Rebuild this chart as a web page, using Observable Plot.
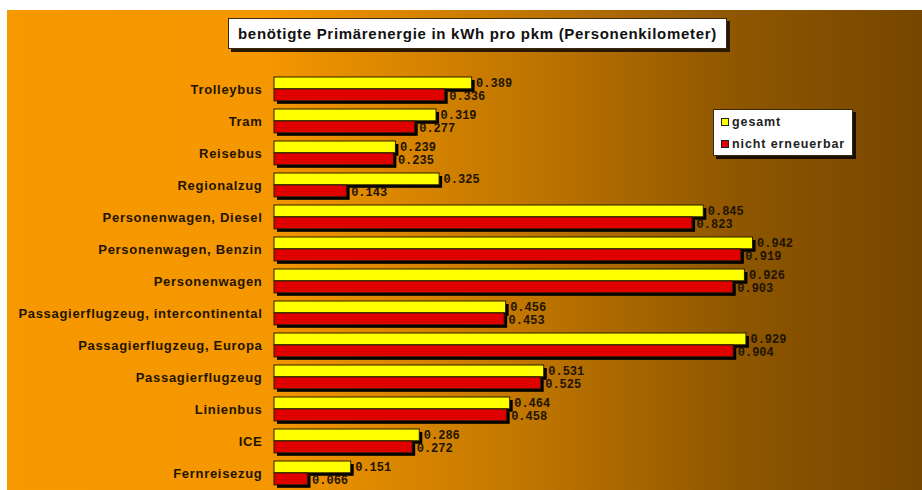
<!DOCTYPE html>
<html>
<head>
<meta charset="utf-8">
<script src="https://cdn.jsdelivr.net/npm/d3@7"></script>
<script src="https://cdn.jsdelivr.net/npm/@observablehq/plot@0.6"></script>
<style>
  html, body { margin: 0; padding: 0; background: #fff; }
  #wrap { position: relative; width: 922px; height: 490px; overflow: hidden; background: #fff; }
  #chart { position: absolute; left: 7px; top: 10px; width: 915px; height: 480px;
    background: linear-gradient(to right, #f79800 0%, #f59700 28%, #c47800 55%, #8e5600 80%, #764600 100%); }
  #chart svg { display: block; background: transparent; }
  #title { position: absolute; left: 228px; top: 18px; width: 499px; height: 31px; background: #fff;
    border: 1px solid #3a2a10; box-shadow: 3px 3px 0 #2a1800; box-sizing: border-box;
    font: bold 15px "Liberation Sans", Arial, sans-serif; letter-spacing: 0.7px; color: #111; text-align: center; line-height: 29px; white-space: nowrap; }
  #legend { position: absolute; left: 713px; top: 109px; width: 140px; height: 47px; background: #fff;
    border: 1px solid #3a2a10; box-shadow: 3px 3px 0 #1a0f00; box-sizing: border-box;
    font: bold 12.5px "Liberation Sans", Arial, sans-serif; letter-spacing: 0.9px; color: #222; }
  .li { position: absolute; left: 7px; display: flex; align-items: center; white-space: nowrap; }
  .sw { width: 6px; height: 6px; border: 1px solid #222; margin-right: 3px; }
</style>
</head>
<body>
<div id="wrap">
  <div id="chart"></div>
  <div id="title">benötigte Primärenergie in kWh pro pkm (Personenkilometer)</div>
  <div id="legend"></div>
</div>
<script>
const categories = ["Trolleybus", "Tram", "Reisebus", "Regionalzug", "Personenwagen, Diesel",
  "Personenwagen, Benzin", "Personenwagen", "Passagierflugzeug, intercontinental",
  "Passagierflugzeug, Europa", "Passagierflugzeug", "Linienbus", "ICE", "Fernreisezug"];
const gesamt = [0.389, 0.319, 0.239, 0.325, 0.845, 0.942, 0.926, 0.456, 0.929, 0.531, 0.464, 0.286, 0.151];
const nichtErneuerbar = [0.336, 0.277, 0.235, 0.143, 0.823, 0.919, 0.903, 0.453, 0.904, 0.525, 0.458, 0.272, 0.066];
const seriesNames = ["gesamt", "nicht erneuerbar"];
const seriesColors = ["#ffff00", "#e00000"];

const dataG = categories.map((c, i) => ({cat: c, v: gesamt[i]}));
const dataN = categories.map((c, i) => ({cat: c, v: nichtErneuerbar[i]}));
const fmt = d3.format(".3f");

const topInsetG = 4, botInsetG = 16.2, topInsetN = 16, botInsetN = 4.2;
const valueFont = "'Liberation Mono', 'Courier New', monospace";

const chart = Plot.plot({
  width: 915,
  height: 480,
  marginLeft: 267,
  marginRight: 140,
  marginTop: 62,
  marginBottom: 0,
  style: {background: "transparent", overflow: "visible"},
  x: {domain: [0, 1], axis: null},
  y: {domain: categories, type: "band", padding: 0, label: null},
  marks: [
    // shadows
    Plot.barX(dataG, {y: "cat", x: "v", fill: "#000", insetTop: topInsetG, insetBottom: botInsetG, dx: 3, dy: 3}),
    Plot.barX(dataN, {y: "cat", x: "v", fill: "#000", insetTop: topInsetN, insetBottom: botInsetN, dx: 3, dy: 3}),
    // bars
    Plot.barX(dataG, {y: "cat", x: "v", fill: seriesColors[0], stroke: "#2a1c00", strokeWidth: 1, insetTop: topInsetG, insetBottom: botInsetG}),
    Plot.barX(dataN, {y: "cat", x: "v", fill: seriesColors[1], stroke: "#2a1c00", strokeWidth: 1, insetTop: topInsetN, insetBottom: botInsetN}),
    // value labels
    Plot.text(dataG, {y: "cat", x: "v", text: d => fmt(d.v), textAnchor: "start", dx: 4, dy: -6.5,
      fontFamily: valueFont, fontWeight: "bold", fontSize: 12, fill: "#1e1400"}),
    Plot.text(dataN, {y: "cat", x: "v", text: d => fmt(d.v), textAnchor: "start", dx: 4, dy: 6.5,
      fontFamily: valueFont, fontWeight: "bold", fontSize: 12, fill: "#1e1400"}),
    Plot.axisY({tickSize: 0, tickPadding: 12, label: null, fontSize: 13, fontWeight: "bold",
      fontFamily: "'Liberation Sans', Arial, sans-serif", fill: "#1e1400"})
  ]
});
document.getElementById("chart").appendChild(chart);
chart.querySelectorAll("g[aria-label='y-axis tick label'] text").forEach(t => t.setAttribute("letter-spacing", "0.7"));

const legend = document.getElementById("legend");
seriesNames.forEach((name, i) => {
  const row = document.createElement("div");
  row.className = "li";
  row.style.top = (i === 0 ? 5 : 27) + "px";
  const sw = document.createElement("span");
  sw.className = "sw";
  sw.style.background = seriesColors[i];
  const t = document.createElement("span");
  t.textContent = name;
  row.appendChild(sw); row.appendChild(t);
  legend.appendChild(row);
});
</script>
</body>
</html>
